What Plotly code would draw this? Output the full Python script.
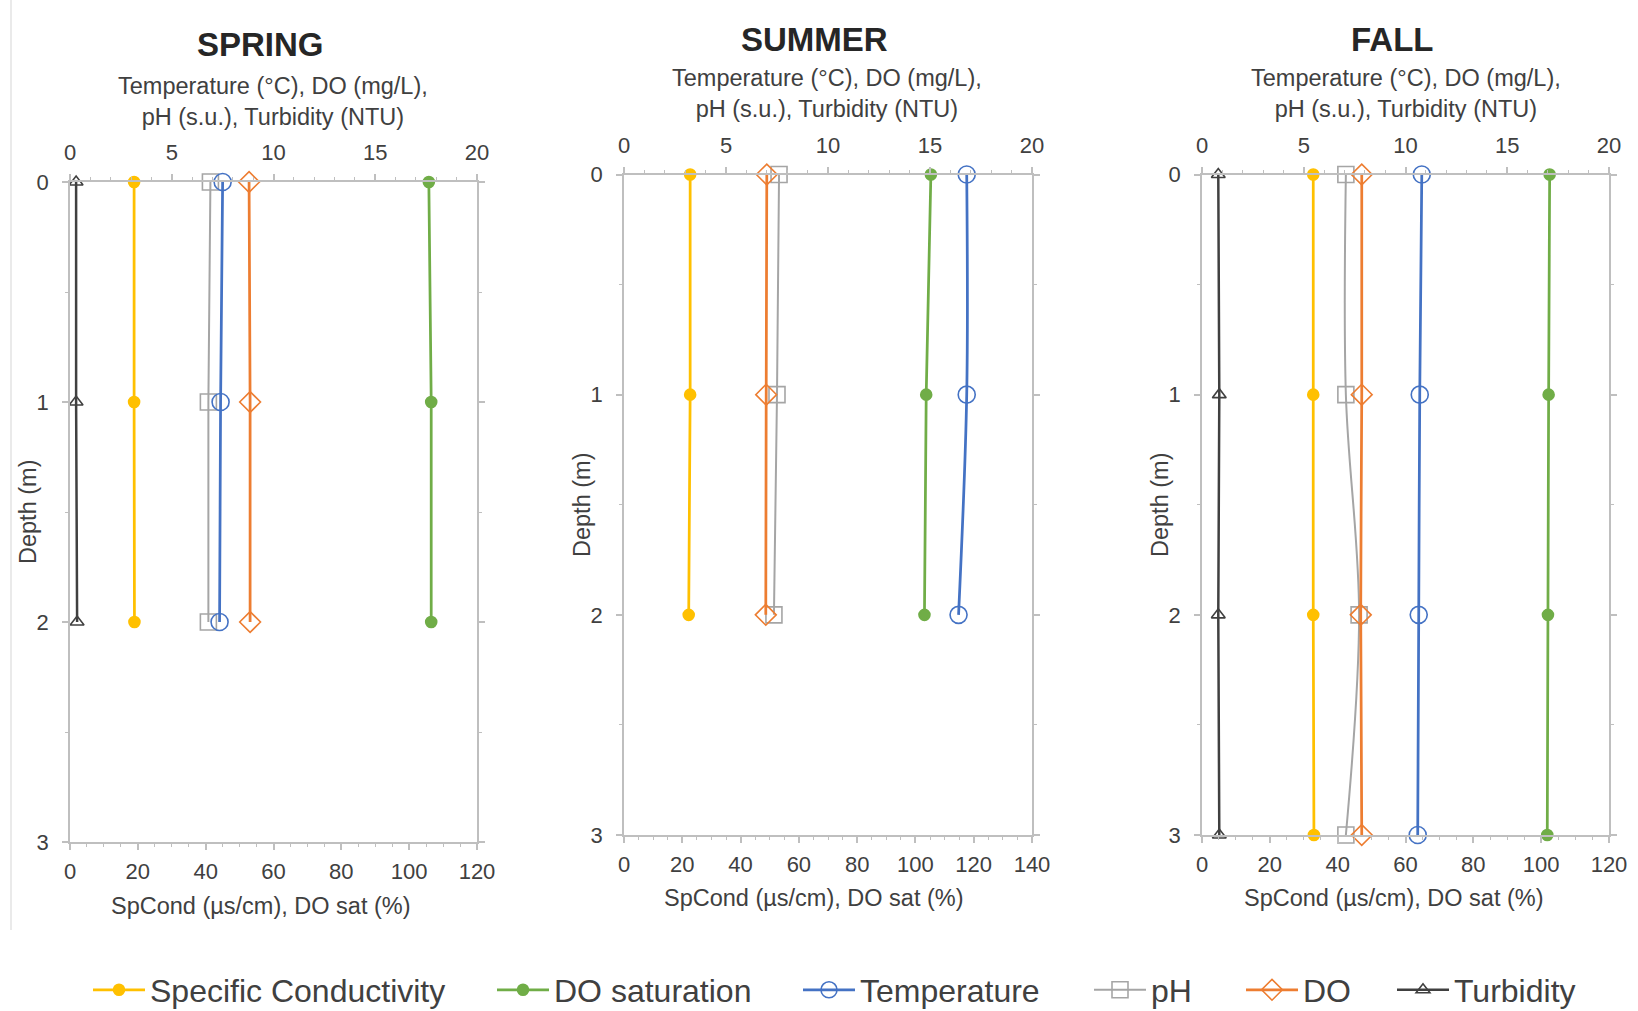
import plotly.graph_objects as go

W, H = 1638, 1011

# ---- data -------------------------------------------------------------
series_names = ["Specific Conductivity", "DO saturation", "Temperature", "pH", "DO", "Turbidity"]
season_titles = ["SPRING", "SUMMER", "FALL"]

spring_depth = [0, 1, 2]
spring_spcond = [18.9, 18.9, 19.0]
spring_dosat = [105.8, 106.5, 106.5]
spring_temp = [7.5, 7.4, 7.35]
spring_ph = [6.9, 6.8, 6.8]
spring_do = [8.8, 8.85, 8.85]
spring_turb = [0.3, 0.3, 0.35]

summer_depth = [0, 1, 2]
summer_spcond = [22.7, 22.7, 22.2]
summer_dosat = [105.3, 103.7, 103.1]
summer_temp = [16.8, 16.8, 16.4]
summer_ph = [7.6, 7.5, 7.35]
summer_do = [7.0, 6.97, 6.95]

fall_depth = [0, 1, 2, 3]
fall_spcond = [32.8, 32.8, 32.8, 33.0]
fall_dosat = [102.5, 102.2, 102.0, 101.8]
fall_temp = [10.8, 10.7, 10.65, 10.6]
fall_ph = [7.07, 7.07, 7.72, 7.07]
fall_do = [7.85, 7.85, 7.8, 7.85]
fall_turb = [0.8, 0.85, 0.8, 0.85]

top_ticks = [0, 5, 10, 15, 20]
bottom_max = [120, 140, 120]
depth_ticks = [0, 1, 2, 3]

# ---- styling ----------------------------------------------------------
FONT = "Liberation Sans, Arial, sans-serif"
TXT = "#404040"
AXC = "#BFBFBF"

styles = {
    "Specific Conductivity": dict(color="#FFC000", symbol="circle", size=11, width=2.75),
    "DO saturation": dict(color="#70AD47", symbol="circle", size=11, width=2.75),
    "Temperature": dict(color="#4472C4", symbol="circle-open", size=17, width=2.75),
    "pH": dict(color="#A5A5A5", symbol="square-open", size=16, width=2),
    "DO": dict(color="#ED7D31", symbol="diamond-open", size=16, width=2.75),
    "Turbidity": dict(color="#404040", symbol="triangle-up-open", size=12, width=2.5),
}

# plot-area boxes in pixels: left, right, top, bottom
boxes = [(70, 477, 182, 842), (624, 1032, 174.5, 835), (1202, 1609, 174.5, 835)]


def px(x):
    return x / W


def py(y):
    return 1 - y / H


fig = go.Figure()

panels = [
    (spring_depth, {"Specific Conductivity": spring_spcond, "DO saturation": spring_dosat,
                    "Temperature": spring_temp, "pH": spring_ph, "DO": spring_do,
                    "Turbidity": spring_turb}),
    (summer_depth, {"Specific Conductivity": summer_spcond, "DO saturation": summer_dosat,
                    "Temperature": summer_temp, "pH": summer_ph, "DO": summer_do}),
    (fall_depth, {"Specific Conductivity": fall_spcond, "DO saturation": fall_dosat,
                  "Temperature": fall_temp, "pH": fall_ph, "DO": fall_do,
                  "Turbidity": fall_turb}),
]

secondary = {"Specific Conductivity", "DO saturation"}
legend_ids = {name: ("legend" if i == 0 else f"legend{i + 1}") for i, name in enumerate(series_names)}

for p, (depth, data) in enumerate(panels):
    xa_top = f"x{2 * p + 1}" if p > 0 else "x"
    xa_bot = f"x{2 * p + 2}"
    ya = f"y{p + 1}" if p > 0 else "y"
    # primary-axis series first so the saturation/conductivity lines sit on top
    order = ["Turbidity", "pH", "DO", "Temperature", "Specific Conductivity", "DO saturation"]
    for name in order:
        if name not in data:
            continue
        st = styles[name]
        fig.add_trace(go.Scatter(
            x=data[name], y=depth,
            xaxis=xa_bot if name in secondary else xa_top, yaxis=ya,
            mode="lines+markers", name=name, cliponaxis=False,
            line=dict(color=st["color"], width=st["width"], shape="spline", smoothing=1),
            marker=dict(symbol=st["symbol"], size=st["size"], color=st["color"],
                        line=dict(color=st["color"], width=1.6)),
            showlegend=(p == 2), legend=legend_ids[name],
        ))

layout = dict(
    width=W, height=H, margin=dict(l=0, r=0, t=0, b=0, autoexpand=False),
    paper_bgcolor="white", plot_bgcolor="white",
    font=dict(family=FONT, color=TXT, size=22),
)


def xaxis_common(rng, dtick, minor_dtick, standoff):
    return dict(
        range=rng, dtick=dtick, tick0=0, showgrid=False, zeroline=False,
        showline=True, linecolor=AXC, linewidth=1.5,
        ticks="outside", ticklen=6, tickcolor=AXC, tickwidth=1.5,
        minor=dict(dtick=minor_dtick, ticks="outside", ticklen=3, tickcolor=AXC, tickwidth=1),
        tickfont=dict(size=22, color=TXT), ticklabelstandoff=standoff,
    )


for p, (l, r, t, b) in enumerate(boxes):
    top_name = "xaxis" if p == 0 else f"xaxis{2 * p + 1}"
    bot_name = f"xaxis{2 * p + 2}"
    y_name = "yaxis" if p == 0 else f"yaxis{p + 1}"
    top_ref = "x" if p == 0 else f"x{2 * p + 1}"
    y_ref = "y" if p == 0 else f"y{p + 1}"
    ax_top = xaxis_common([0, 20], 5, 1, 5)
    ax_top.update(domain=[px(l), px(r)], anchor=y_ref, side="top", tickvals=top_ticks)
    layout[top_name] = ax_top
    ax_bot = xaxis_common([0, bottom_max[p]], 20, 5, 3)
    ax_bot.update(anchor=y_ref, side="bottom", overlaying=top_ref)
    layout[bot_name] = ax_bot
    layout[y_name] = dict(
        domain=[py(b), py(t)], range=[3, 0], anchor=top_ref, tickvals=depth_ticks,
        showgrid=False, zeroline=False, showline=True, linecolor=AXC, linewidth=1.5,
        mirror="ticks", ticks="outside", ticklen=6, tickcolor=AXC, tickwidth=1.5,
        minor=dict(dtick=0.5, ticks="outside", ticklen=3, tickcolor=AXC, tickwidth=1),
        tickfont=dict(size=22, color=TXT), ticklabelstandoff=9,
    )

# one legend per series, laid out along the bottom
legend_text_x = [150, 554, 860, 1151, 1303, 1454]
for i, name in enumerate(series_names):
    key = "legend" if i == 0 else f"legend{i + 1}"
    layout[key] = dict(
        x=px(legend_text_x[i] - 62), y=py(990), xanchor="left", yanchor="middle",
        orientation="h", bgcolor="rgba(0,0,0,0)", borderwidth=0,
        font=dict(size=32, color=TXT, family=FONT), itemwidth=52,
    )

fig.update_layout(**layout)

# panel titles and axis captions
title_pos = [(260, 45), (814, 39), (1392, 39)]
top_cap_pos = [(273, 101.5), (827, 94), (1406, 94)]
bot_cap_pos = [(261, 906), (814, 898), (1394, 898)]
depth_cap_pos = [(28, 512), (582, 505), (1160, 505)]

for p in range(3):
    fig.add_annotation(x=px(title_pos[p][0]), y=py(title_pos[p][1]), xref="paper", yref="paper",
                       text=f"<b>{season_titles[p]}</b>", showarrow=False,
                       font=dict(size=33, color="#262626", family=FONT),
                       xanchor="center", yanchor="middle")
    fig.add_annotation(x=px(top_cap_pos[p][0]), y=py(top_cap_pos[p][1]), xref="paper", yref="paper",
                       text="Temperature (°C), DO (mg/L),<br>pH (s.u.), Turbidity (NTU)",
                       showarrow=False, font=dict(size=23.5, color=TXT, family=FONT),
                       xanchor="center", yanchor="middle", align="center")
    fig.add_annotation(x=px(bot_cap_pos[p][0]), y=py(bot_cap_pos[p][1]), xref="paper", yref="paper",
                       text="SpCond (µs/cm), DO sat (%)", showarrow=False,
                       font=dict(size=23.5, color=TXT, family=FONT),
                       xanchor="center", yanchor="middle")
    fig.add_annotation(x=px(depth_cap_pos[p][0]), y=py(depth_cap_pos[p][1]), xref="paper", yref="paper",
                       text="Depth (m)", textangle=-90, showarrow=False,
                       font=dict(size=23.5, color=TXT, family=FONT),
                       xanchor="center", yanchor="middle")

# faint outer edge of the first chart
fig.add_shape(type="line", xref="paper", yref="paper",
              x0=px(11), x1=px(11), y0=py(0), y1=py(930),
              line=dict(color="#E3E3E3", width=1.5))

fig.write_html("out.html")
